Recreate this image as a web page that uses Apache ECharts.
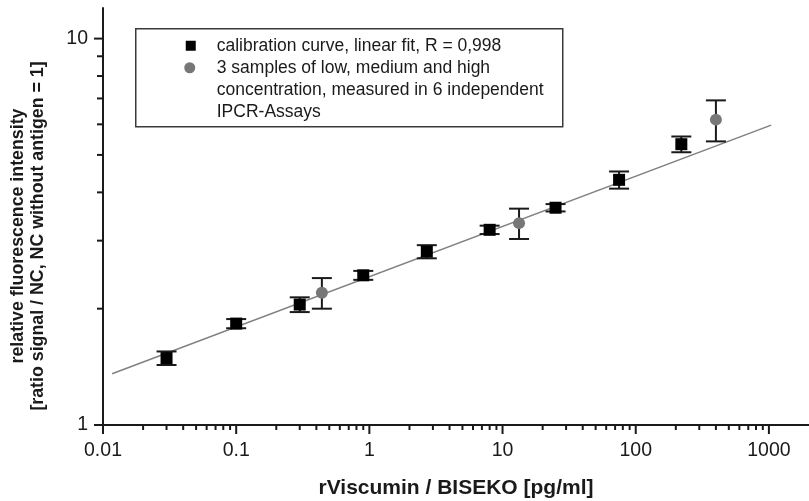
<!DOCTYPE html>
<html>
<head>
<meta charset="utf-8">
<script src="https://cdn.jsdelivr.net/npm/echarts@6/dist/echarts.min.js"></script>
<style>
  html, body { margin: 0; padding: 0; background: #fff; }
  #chart { width: 809px; height: 501px; }
</style>
</head>
<body>
<div id="chart"></div>
<script>
// Calibration standards: concentration [pg/ml], mean ratio, error
const calibrationX = [0.03, 0.1, 0.3, 0.9, 2.7, 8, 25, 75, 220];
const calibrationY = [1.49, 1.83, 2.05, 2.44, 2.81, 3.20, 3.65, 4.31, 5.33];
const calibrationErr = [0.06, 0.05, 0.09, 0.065, 0.11, 0.08, 0.08, 0.22, 0.25];

// Samples of low, medium and high concentration
const sampleX = [0.44, 13.3, 400];
const sampleY = [2.20, 3.33, 6.17];
const sampleErr = [0.2, 0.3, 0.75];

// Linear fit (log-log), end points
const fitX = [0.0117, 1040];
const fitY = [1.357, 5.97];

// Axis ranges and decade labels
const xRange = [0.01, 2000];
const yRange = [1, 12];
const xDecades = [0.01, 0.1, 1, 10, 100, 1000];
const yDecades = [1, 10];

const legendLabels = [
  'calibration curve, linear fit, R = 0,998',
  '3 samples of low, medium and high\nconcentration, measured in 6 independent\nIPCR-Assays'
];
const xTitle = 'rViscumin / BISEKO [pg/ml]';
const yTitle = 'relative fluorescence intensity\n[ratio signal / NC, NC without antigen = 1]';

const FONT = "'Liberation Sans', Arial, sans-serif";
const INK = '#1a1a1a';

// minor log ticks (2..9 within each decade)
function minorTicks(decades, upper) {
  const out = [];
  decades.forEach(d => {
    for (let k = 2; k <= 9; k++) {
      const v = +(d * k).toPrecision(6);
      if (v < upper) out.push(v);
    }
  });
  return out;
}
const xMinor = minorTicks(xDecades, xRange[1]);
const yMinor = minorTicks(yDecades, yRange[1]);

function isDecade(v) {
  const l = Math.log10(v);
  return Math.abs(l - Math.round(l)) < 1e-6;
}

const tickData = [];
xDecades.forEach(v => tickData.push([v, yRange[0], 0, 9]));
xMinor.forEach(v => tickData.push([v, yRange[0], 0, 5]));
yDecades.forEach(v => tickData.push([xRange[0], v, 1, 9]));
yMinor.forEach(v => tickData.push([xRange[0], v, 1, 6]));

function errorBars(xs, ys, errs) {
  return xs.map((x, i) => [x, ys[i], errs[i]]);
}

function renderErrorBar(params, api) {
  const x = api.value(0), y = api.value(1), e = api.value(2);
  const hi = api.coord([x, y + e]);
  const lo = api.coord([x, y - e]);
  const w = 10;
  const style = { stroke: INK, lineWidth: 2 };
  return {
    type: 'group',
    children: [
      { type: 'line', shape: { x1: hi[0], y1: hi[1], x2: lo[0], y2: lo[1] }, style },
      { type: 'line', shape: { x1: hi[0] - w, y1: hi[1], x2: hi[0] + w, y2: hi[1] }, style },
      { type: 'line', shape: { x1: lo[0] - w, y1: lo[1], x2: lo[0] + w, y2: lo[1] }, style }
    ]
  };
}

function renderTick(params, api) {
  const p = api.coord([api.value(0), api.value(1)]);
  const vertical = api.value(2) === 0;
  const len = api.value(3);
  const shape = vertical
    ? { x1: p[0], y1: p[1], x2: p[0], y2: p[1] + len }
    : { x1: p[0], y1: p[1], x2: p[0] - len, y2: p[1] };
  return { type: 'line', shape, style: { stroke: INK, lineWidth: 2 } };
}

const chart = echarts.init(document.getElementById('chart'), null, { renderer: 'canvas' });

chart.setOption({
  animation: false,
  backgroundColor: '#fff',
  textStyle: { fontFamily: FONT },
  grid: { left: 103, right: 0, top: 8, bottom: 76, containLabel: false, outerBoundsMode: 'none' },
  xAxis: {
    type: 'log',
    logBase: 10,
    min: xRange[0],
    max: xRange[1],
    axisLine: { show: true, lineStyle: { color: INK, width: 2 } },
    axisTick: { show: false },
    splitLine: { show: false },
    axisLabel: {
      show: true,
      margin: 16,
      fontSize: 19.5,
      color: INK,
      fontFamily: FONT,
      showMaxLabel: false,
      formatter: v => isDecade(v) ? String(+v.toPrecision(6)) : ''
    },
    name: xTitle,
    nameLocation: 'middle',
    nameGap: 53,
    nameTextStyle: { fontSize: 21, fontWeight: 'bold', color: INK, fontFamily: FONT }
  },
  yAxis: {
    type: 'log',
    logBase: 10,
    min: yRange[0],
    max: yRange[1],
    axisLine: { show: true, lineStyle: { color: INK, width: 2 } },
    axisTick: { show: false },
    splitLine: { show: false },
    axisLabel: {
      show: true,
      margin: 15,
      fontSize: 19.5,
      color: INK,
      fontFamily: FONT,
      showMaxLabel: false,
      formatter: v => isDecade(v) ? String(+v.toPrecision(6)) : ''
    }
  },
  graphic: [
    {
      type: 'text',
      x: 28.5, y: 236,
      rotation: Math.PI / 2,
      style: {
        text: yTitle,
        font: 'bold 17.8px ' + FONT,
        fill: INK,
        align: 'center',
        verticalAlign: 'middle',
        lineHeight: 20
      }
    },
    {
      type: 'group',
      left: 135, top: 28,
      children: [
        { type: 'rect', shape: { x: 0, y: 0, width: 427, height: 98 },
          style: { fill: '#fff', stroke: '#3a3a3a', lineWidth: 1.5 } },
        { type: 'rect', shape: { x: 50, y: 12, width: 10, height: 10 },
          style: { fill: '#000' } },
        { type: 'circle', shape: { cx: 54, cy: 39, r: 5.5 },
          style: { fill: '#777' } },
        { type: 'text', x: 81, y: 17,
          style: { text: legendLabels[0], font: '17.5px ' + FONT, fill: INK,
                   verticalAlign: 'middle' } },
        { type: 'text', x: 81, y: 28,
          style: { text: legendLabels[1], font: '17.5px ' + FONT, fill: INK,
                   verticalAlign: 'top', lineHeight: 22 } }
      ]
    }
  ],
  series: [
    {
      name: 'axis ticks',
      type: 'custom',
      renderItem: renderTick,
      data: tickData,
      silent: true,
      clip: false,
      z: 5
    },
    {
      name: 'linear fit',
      type: 'line',
      data: fitX.map((x, i) => [x, fitY[i]]),
      symbol: 'none',
      lineStyle: { color: '#808080', width: 1.5 },
      silent: true,
      z: 2
    },
    {
      name: 'calibration error',
      type: 'custom',
      renderItem: renderErrorBar,
      data: errorBars(calibrationX, calibrationY, calibrationErr),
      z: 3
    },
    {
      name: 'sample error',
      type: 'custom',
      renderItem: renderErrorBar,
      data: errorBars(sampleX, sampleY, sampleErr),
      z: 3
    },
    {
      name: 'calibration curve',
      type: 'scatter',
      data: calibrationX.map((x, i) => [x, calibrationY[i]]),
      symbol: 'rect',
      symbolSize: 12,
      itemStyle: { color: '#000', opacity: 1 },
      z: 4
    },
    {
      name: '3 samples',
      type: 'scatter',
      data: sampleX.map((x, i) => [x, sampleY[i]]),
      symbol: 'circle',
      symbolSize: 12,
      itemStyle: { color: '#777', opacity: 1 },
      z: 4
    }
  ]
});
</script>
</body>
</html>
